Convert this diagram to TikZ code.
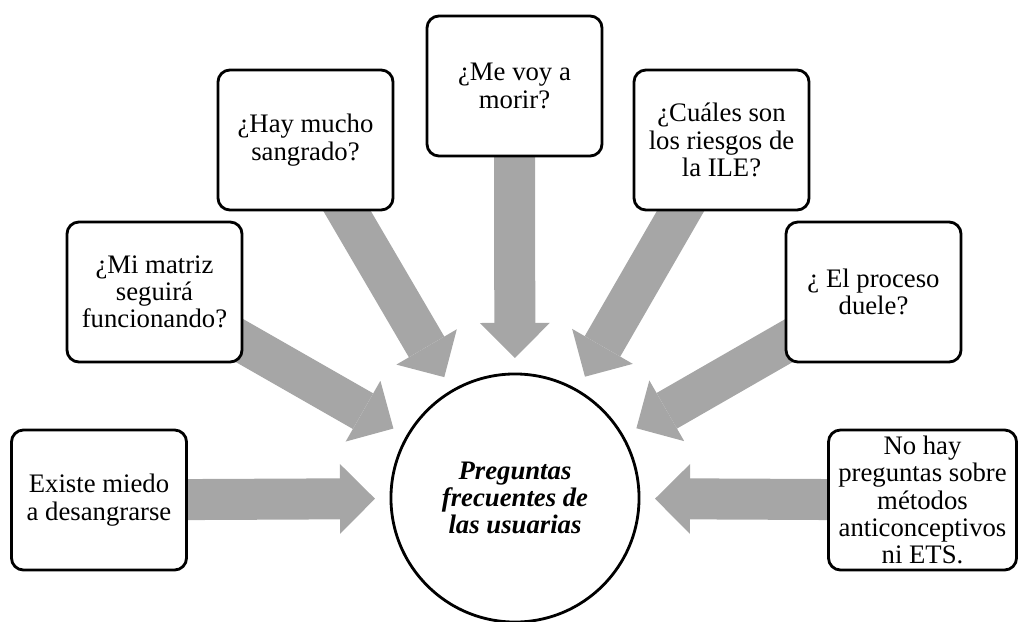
\documentclass[tikz,border=0pt]{standalone}
\usepackage{fontspec}
\setmainfont{Liberation Serif}
\usepackage{tikz}
\usepackage{xcolor}
\usetikzlibrary{
    arrows.meta,
    backgrounds,
    calc
}
\definecolor{arrowgray}{HTML}{A6A6A6}
\tikzset{
    qbox/.style={draw, fill=white, line width=2pt, rounded corners=0.3cm,
        minimum width=4.375cm, minimum height=3.5cm, align=center,
        inner sep=2pt, font=\fontsize{19}{19.4}\selectfont},
    hubnode/.style={draw, fill=white, circle, line width=2pt, outer sep=0pt,
        minimum size=6.2cm, align=center,
        font=\fontsize{19}{19.4}\selectfont\bfseries\itshape},
    bigarrow/.style={draw=arrowgray, line width=1.025cm,
        -{Triangle[width=1.75cm, length=0.875cm, line width=0pt]},
        shorten >=0.4cm}
}

\begin{document}
\begin{tikzpicture}[x=0.025cm, y=0.025cm]
                        \useasboundingbox (0, 0) rectangle (1019, 621);
                        \node[hubnode] (hub) at (515, 123) {Preguntas\\frecuentes de\\las usuarias};
                        \node[qbox] (miedo) at (99, 121) {Existe miedo\\a desangrarse};
                        \node[qbox] (matriz) at (154.5, 329) {¿Mi matriz\\seguirá\\funcionando?};
                        \node[qbox] (sangrado) at (305.5, 481) {¿Hay mucho\\sangrado?};
                        \node[qbox] (morir) at (514.5, 535) {¿Me voy a\\morir?};
                        \node[qbox] (riesgos) at (721.5, 481) {¿Cuáles son\\los riesgos de\\la ILE?};
                        \node[qbox] (duele) at (873.5, 329) {¿ El proceso\\duele?};
                        \node[qbox, minimum width=4.7cm] (metodos) at (922.5, 121)
                            {No hay\\preguntas sobre\\métodos\\anticonceptivos\\ni ETS.};
                        \begin{pgfonlayer}{background}
                        \draw[bigarrow] (miedo.center) -- (hub);
                        \draw[bigarrow] (matriz.center) -- (hub);
                        \draw[bigarrow] (sangrado.center) -- (hub);
                        \draw[bigarrow] (morir.center) -- (hub);
                        \draw[bigarrow] (riesgos.center) -- (hub);
                        \draw[bigarrow] (duele.center) -- (hub);
                        \draw[bigarrow] (metodos.center) -- (hub);
                        \end{pgfonlayer}
                    \end{tikzpicture}
\end{document}
